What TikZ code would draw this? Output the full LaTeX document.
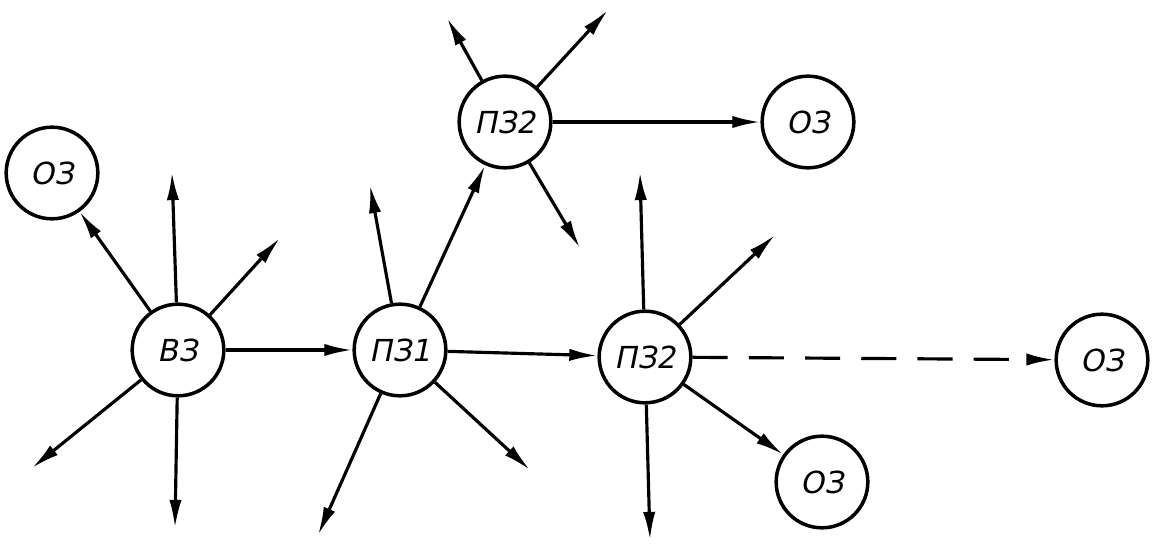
\documentclass[tikz,border=0pt]{standalone}
\usepackage{fontspec}
\newfontfamily\lbl{DejaVu Sans}[FakeSlant=0.2]
\usetikzlibrary{arrows.meta}
\begin{document}
\begin{tikzpicture}[x=0.02cm,y=-0.02cm,
  st/.style={draw,circle,line width=2pt,minimum size=92pt*0.02/0.0352778,inner sep=0pt,font=\lbl\LARGE},
  ar/.style={line width=1.8pt,-{Latex[length=16pt,width=7pt]}}]
\useasboundingbox (0,0) rectangle (1166,550);

\node[st] (oz1) at (52,173) {ОЗ};
\node[st] (vz) at (178,350) {ВЗ};
\node[st] (pz1) at (400,350) {ПЗ1};
\node[st] (pz2a) at (505,122) {ПЗ2};
\node[st] (oz2) at (808,122) {ОЗ};
\node[st] (pz2b) at (645,357) {ПЗ2};
\node[st] (oz3) at (1102,360) {ОЗ};
\node[st] (oz4) at (822,482) {ОЗ};

\coordinate (v1) at (172,172);
\coordinate (v2) at (175,528);
\coordinate (v3) at (280,238);
\coordinate (v4) at (32,468);
\coordinate (p1) at (370,185);
\coordinate (p2) at (318,535);
\coordinate (p3) at (530,470);
\coordinate (q1) at (447,18);
\coordinate (q2) at (608,10);
\coordinate (q3) at (580,248);
\coordinate (r1) at (640,172);
\coordinate (r2) at (650,540);
\coordinate (r3) at (775,235);

\foreach \a/\b in {vz/oz1,vz/pz1,pz1/pz2a,pz1/pz2b,pz2a/oz2,pz2b/oz4}
  \draw[ar] (\a) -- (\b);
\foreach \a/\b in {vz/v1,vz/v2,vz/v3,vz/v4,pz1/p1,pz1/p2,pz1/p3,pz2a/q1,pz2a/q2,pz2a/q3,pz2b/r1,pz2b/r2,pz2b/r3}
  \draw[ar] (\a) -- (\b);
\draw[ar,dash pattern=on 20pt off 12pt] (pz2b) -- (oz3);

\end{tikzpicture}
\end{document}
